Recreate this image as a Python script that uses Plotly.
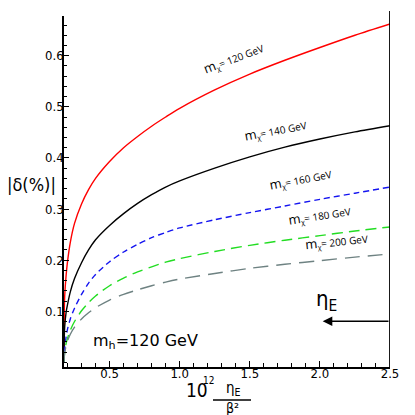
import plotly.graph_objects as go

# eta_E scan (10^12 eta_E / beta^2)
eta = [0.175, 0.177, 0.18, 0.19, 0.2, 0.22, 0.25, 0.3, 0.35, 0.4, 0.5, 0.6, 0.7,
       0.8, 0.9, 1.0, 1.25, 1.5, 1.75, 2.0, 2.25, 2.5]

# |delta(%)| for each dark-matter mass
d120 = [0.0, 0.10, 0.13, 0.17, 0.197, 0.235, 0.272, 0.31, 0.338, 0.360, 0.393, 0.420,
        0.442, 0.462, 0.480, 0.497, 0.533, 0.564, 0.591, 0.616, 0.640, 0.662]
d140 = [0.0, 0.05, 0.07, 0.098, 0.113, 0.138, 0.164, 0.195, 0.220, 0.240, 0.268, 0.291,
        0.311, 0.328, 0.343, 0.355, 0.380, 0.402, 0.421, 0.437, 0.451, 0.463]
d160 = [0.0, 0.015, 0.025, 0.05, 0.065, 0.085, 0.106, 0.133, 0.155, 0.172, 0.197, 0.216,
        0.231, 0.244, 0.254, 0.263, 0.279, 0.293, 0.306, 0.319, 0.331, 0.343]
d180 = [0.0, 0.012, 0.02, 0.037, 0.047, 0.063, 0.080, 0.101, 0.117, 0.130, 0.150, 0.165,
        0.177, 0.187, 0.196, 0.203, 0.217, 0.229, 0.239, 0.248, 0.257, 0.265]
d200 = [0.0, 0.01, 0.018, 0.033, 0.042, 0.055, 0.069, 0.085, 0.097, 0.107, 0.122, 0.133,
        0.142, 0.150, 0.157, 0.163, 0.174, 0.184, 0.192, 0.199, 0.206, 0.212]

masses = ["120", "140", "160", "180", "200"]
xticks = [0.5, 1.0, 1.5, 2.0, 2.5]
yticks = [0.1, 0.2, 0.3, 0.4, 0.5, 0.6]

series = [d120, d140, d160, d180, d200]
colors = ["#ff0000", "#000000", "#1414f0", "#22dd22", "#6e8282"]
dashes = ["solid", "solid", "6px,4px", "11px,6px", "15px,8px"]

# plot area in pixels
L, R, T, B = 56, 382, 8, 359
W, H = 415, 415


def px(x):
    return (x - L) / (R - L)


def py(y):
    return (B - y) / (B - T)


fig = go.Figure()
for m, d, c, ds in zip(masses, series, colors, dashes):
    fig.add_trace(go.Scatter(x=eta, y=d, mode="lines", name=m,
                             line=dict(color=c, width=1.4, dash=ds,
                                       shape="spline", smoothing=0.8)))

narrow = "Liberation Sans Narrow, DejaVu Sans Condensed, sans-serif"
tickfont = dict(family=narrow, size=13, color="black")
fig.update_layout(
    width=W, height=H,
    margin=dict(l=L, r=W - R, t=T, b=H - B),
    plot_bgcolor="white", paper_bgcolor="white",
    showlegend=False,
    xaxis=dict(range=[0.175, 2.5], tickvals=xticks, ticktext=["%.1f" % v for v in xticks],
               ticks="inside", ticklen=6, tickcolor="black", tickwidth=1,
               minor=dict(dtick=0.1, tick0=0, ticks="inside", ticklen=4, tickcolor="black"),
               showline=True, linecolor="black", linewidth=1.5, ticklabelstandoff=-6,
               showgrid=False, zeroline=False, tickfont=tickfont),
    yaxis=dict(range=[-0.009, 0.6776], tickvals=yticks, ticktext=["%.1f" % v for v in yticks],
               ticks="inside", ticklen=5, tickcolor="black", tickwidth=1,
               minor=dict(dtick=0.02, tick0=0, ticks="inside", ticklen=3, tickcolor="black"),
               showline=True, linecolor="black", linewidth=1.5, ticklabelstandoff=-4,
               showgrid=False, zeroline=False, tickfont=tickfont),
)

# right-hand vertical line at eta = 2.5
fig.add_shape(type="line", xref="x", yref="paper", x0=2.5, x1=2.5, y0=0, y1=1.014,
              line=dict(color="black", width=1.8))

# curve labels: (centre px, centre py, angle)
lab_pos = [(225, 50, -21), (267, 122, -11), (292, 171, -11), (311, 207, -9), (328, 233, -6)]
lab_font = dict(family="Open Sans, DejaVu Sans, sans-serif", size=10, color="black")
for m, (cx, cy, ang) in zip(masses, lab_pos):
    fig.add_annotation(xref="paper", yref="paper", x=px(cx), y=py(cy),
                       text="<span style='font-size:13px'>m</span><sub>χ</sub>= %s GeV" % m,
                       textangle=ang, showarrow=False, font=lab_font,
                       xanchor="center", yanchor="middle")

fig.add_annotation(xref="paper", yref="paper", x=px(137), y=py(333),
                   text="m<sub>h</sub>=120 GeV", showarrow=False,
                   font=dict(family="DejaVu Sans", size=16, color="black"),
                   xanchor="center", yanchor="middle")

# eta_E arrow
fig.add_annotation(x=2.02, y=0.0805, ax=2.5, ay=0.0805, xref="x", yref="y",
                   axref="x", ayref="y", text="", showarrow=True,
                   arrowhead=2, arrowsize=1.2, arrowwidth=1.6, arrowcolor="black")
fig.add_annotation(xref="paper", yref="paper", x=px(318), y=py(292),
                   text="η<sub>E</sub>", showarrow=False,
                   font=dict(family="DejaVu Sans Condensed, sans-serif", size=22, color="black"),
                   xanchor="center", yanchor="middle")

# axis titles
fig.add_annotation(xref="paper", yref="paper", x=px(23), y=py(176),
                   text="|δ(%)|", showarrow=False,
                   font=dict(family=narrow, size=18, color="black"),
                   xanchor="center", yanchor="middle")
fig.add_annotation(xref="paper", yref="paper", x=px(189), y=py(382),
                   text="10", showarrow=False,
                   font=dict(family=narrow, size=19, color="black"),
                   xanchor="center", yanchor="middle")
fig.add_annotation(xref="paper", yref="paper", x=px(200), y=py(372),
                   text="12", showarrow=False,
                   font=dict(family=narrow, size=10, color="black"),
                   xanchor="center", yanchor="middle")
fig.add_annotation(xref="paper", yref="paper", x=px(225), y=py(380),
                   text="η<sub>E</sub>", showarrow=False,
                   font=dict(family="DejaVu Sans Condensed, sans-serif", size=15, color="black"),
                   xanchor="center", yanchor="middle")
fig.add_annotation(xref="paper", yref="paper", x=px(224), y=py(400),
                   text="β²", showarrow=False,
                   font=dict(family="DejaVu Sans Condensed, sans-serif", size=14, color="black"),
                   xanchor="center", yanchor="middle")
fig.add_shape(type="line", xref="paper", yref="paper", x0=px(205), x1=px(243),
              y0=py(392), y1=py(392), line=dict(color="black", width=1.5))

fig.write_html("out.html")
